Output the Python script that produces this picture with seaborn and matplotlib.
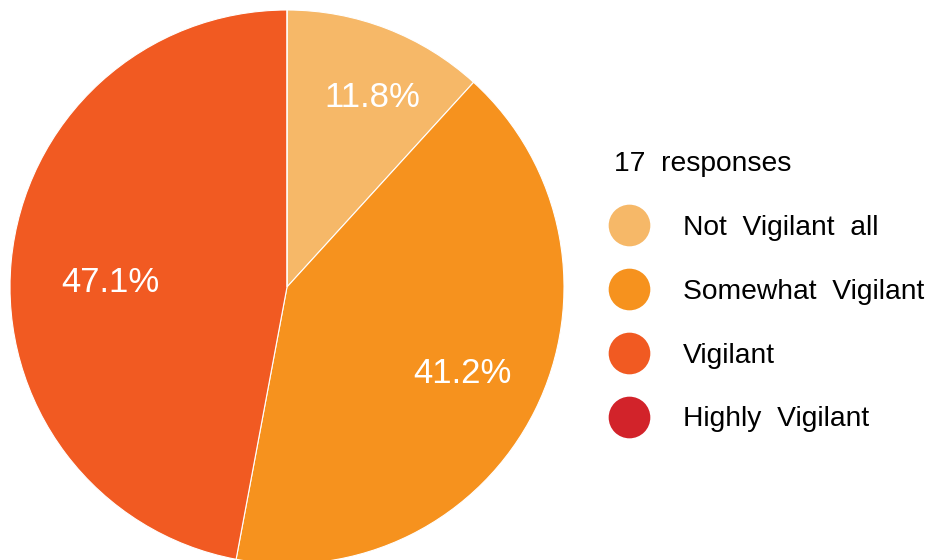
import matplotlib
matplotlib.use("Agg")
import matplotlib.pyplot as plt
from matplotlib.lines import Line2D
import numpy as np
import seaborn as sns

categories = ["Not  Vigilant  all", "Somewhat  Vigilant", "Vigilant", "Highly  Vigilant"]
counts = [2, 7, 8, 0]
colors = ["#F6B868", "#F6921E", "#F15A22", "#D2232A"]
total_label = "17  responses"

sns.set_theme(style="white")
plt.rcParams["font.family"] = ["Liberation Sans", "DejaVu Sans"]

W, H = 933, 560
fig = plt.figure(figsize=(W / 100, H / 100), dpi=100)
cx, cy, r = 287, 287, 277
ax = fig.add_axes([(cx - r) / W, (H - cy - r) / H, 2 * r / W, 2 * r / H])

def fmt(p):
    return "" if p < 0.05 else f"{p:.1f}%"

wedges, texts, autotexts = ax.pie(
    counts, colors=colors, startangle=90, counterclock=False,
    autopct=fmt, pctdistance=0.7, radius=1,
    wedgeprops=dict(edgecolor="white", linewidth=0.8),
    textprops=dict(color="white", fontsize=25),
)
# per-wedge label placement (style): radial distance and angular nudge in degrees
label_dist = [0.75, 0.706, 0.637, 0.7]
label_nudge = [-3.0, 0.3, 3.9, 0.0]
for w, t, d, n in zip(wedges, autotexts, label_dist, label_nudge):
    ang = np.deg2rad((w.theta1 + w.theta2) / 2 + n)
    t.set_position((d * np.cos(ang), d * np.sin(ang)))

ax.set_xlim(-1, 1)
ax.set_ylim(-1, 1)
ax.set_aspect("equal")
ax.axis("off")

handles = [Line2D([0], [0], marker="o", linestyle="none", markersize=30,
                  markerfacecolor=c, markeredgecolor="none") for c in colors]
leg = fig.legend(handles, categories, title=total_label, loc="upper left",
                 bbox_to_anchor=(603 / W, 1 - 140 / H), frameon=False,
                 fontsize=20.3, title_fontsize=20.3, labelspacing=1.34,
                 handlelength=1.06, handletextpad=1.38, alignment="left",
                 borderaxespad=0, labelcolor="black")
leg.get_title().set_color("black")

fig.savefig("out.png", dpi=100)
